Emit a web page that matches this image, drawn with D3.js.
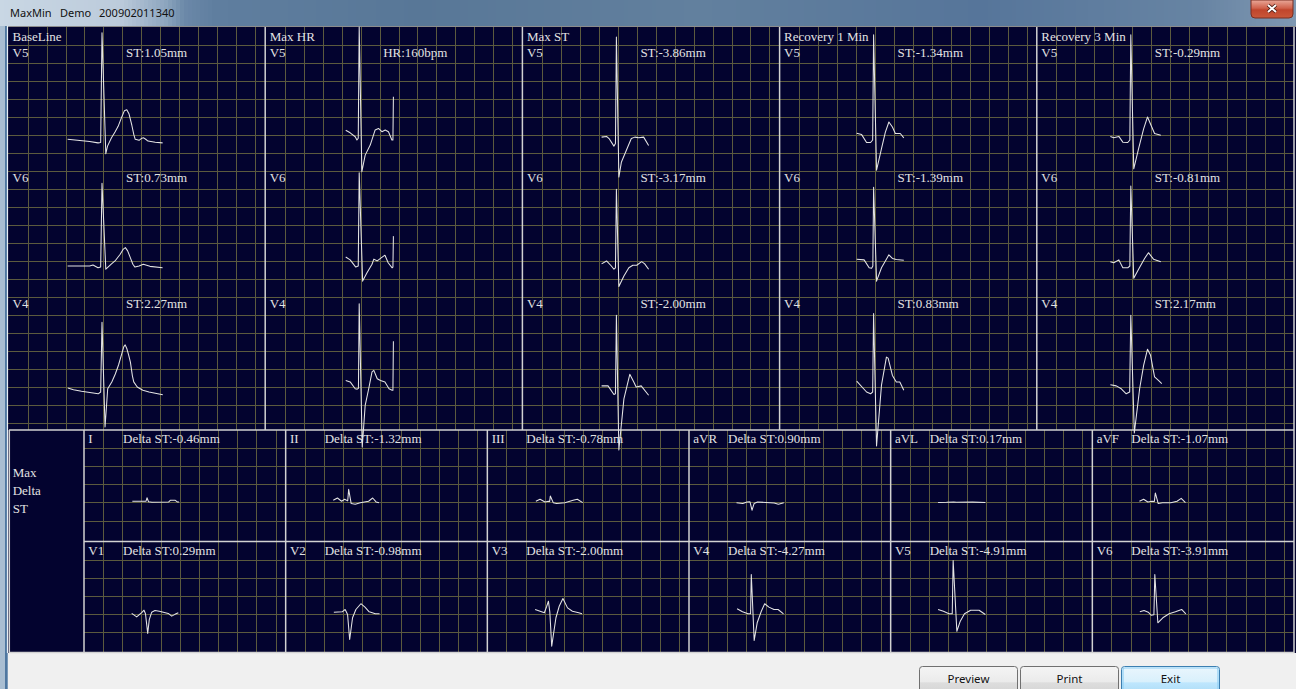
<!DOCTYPE html>
<html><head><meta charset="utf-8">
<script src="https://cdn.jsdelivr.net/npm/d3@7"></script>
<style>html,body{margin:0;padding:0;background:#f0f0f0;overflow:hidden}svg{display:block}</style>
</head><body><svg id="c" width="1296" height="689"></svg>
<script>
// ---------- data ----------
const windowTitle = ["MaxMin", "Demo", "200902011340"];
const stages = ["BaseLine", "Max HR", "Max ST", "Recovery 1 Min", "Recovery 3 Min"];
const stageLeads = ["V5", "V6", "V4"];
const stageST = [[1.05, 0.73, 2.27], [null, null, null], [-3.86, -3.17, -2.00], [-1.34, -1.39, 0.83], [-0.29, -0.81, 2.17]];
const maxHR = 160;
const deltaLeads = ["I", "II", "III", "aVR", "aVL", "aVF", "V1", "V2", "V3", "V4", "V5", "V6"];
const deltaST = [-0.46, -1.32, -0.78, 0.90, 0.17, -1.07, 0.29, -0.98, -2.00, -4.27, -4.91, -3.91];
const buttons = ["Preview", "Print", "Exit"];

// averaged beats: [time from R (ms), amplitude (mm)]
const baseV5 = [[-362,0.2],[-130,-0.4],[-42,-0.8],[-14,-0.7],[0,29.8],[40,-3.8],[58,-1.7],[100,0.6],[137,2.2],[170,3.8],[205,6.2],[235,8.1],[261,8.4],[285,7.2],[314,4.1],[335,1.5],[350,0.2],[390,-0.1],[420,0.5],[439,0.6],[460,0.2],[484,-0.3],[560,-0.6],[638,-0.8]];
const baseV6 = [[-362,0],[-130,0],[-95,0.3],[-42,-0.5],[-14,-0.3],[0,23],[40,-0.9],[63,-0.3],[100,0.6],[137,1.4],[190,3.2],[225,4.7],[246,5.1],[270,4.2],[300,2.2],[325,0.5],[347,-0.3],[390,0],[435,0.5],[505,-0.1],[638,-0.5]];
const baseV4 = [[-360,1.1],[-300,0.6],[-216,0.2],[-40,-0.5],[-14,0],[0,19.4],[32,-9.7],[60,0.9],[103,2.8],[140,5],[174,7.5],[210,10.8],[230,12.6],[244,13.1],[262,12],[280,10.3],[299,8.3],[320,4.5],[334,2.8],[371,1.4],[430,0.5],[495,0],[640,-0.75]];

const hrV5 = [[-142,2.7],[-95,2.0],[-42,0.9],[-24,0],[-10,0.5],[0,31.4],[28,-8.8],[63,-4.2],[116,-1.4],[168,2.8],[203,3.2],[239,2.3],[274,2.8],[308,2.3],[344,0],[355,0],[360,12]];
const hrV6 = [[-142,2.5],[-95,1.7],[-36,-0.3],[-10,0],[0,25.9],[36,-4.2],[82,-1.9],[135,0.5],[154,1.9],[190,1.4],[224,2.1],[271,3.0],[305,0.9],[347,-0.5],[355,-0.3],[360,8.3]];
const hrV4 = [[-142,3.2],[-95,2.8],[-42,0.9],[-21,0.8],[-8,1],[0,24.5],[32,-15.3],[63,-3.7],[100,0.9],[135,5.6],[154,6.0],[190,3.7],[224,3.2],[271,2.8],[314,0.9],[347,0.5],[355,0.5],[360,14.1]];

const stV5 = [[-156,0.8],[-104,1.0],[-74,0.3],[-26,-1.7],[-10,-1],[0,28.6],[26,-10.3],[53,-6.1],[104,-2.9],[157,0.4],[194,0.8],[235,0.6],[287,0.8],[339,-1.5]];
const stV6 = [[-156,0.6],[-104,1.4],[-53,0],[-26,-0.9],[-10,-0.5],[0,21.3],[26,-5.7],[79,-2.8],[131,-0.5],[173,0.2],[214,0.2],[266,1.2],[298,0.6],[339,-0.9]];
const stV4 = [[-156,1.7],[-88,1.7],[-26,-0.7],[-10,-0.5],[0,21.3],[26,-16.1],[79,-1.9],[141,4.9],[183,2.8],[208,1.4],[261,1.7],[339,-0.9]];

const r1V5 = [[-178,1.9],[-126,1.5],[-74,-0.7],[-32,-0.7],[-10,0],[0,29.2],[31,-8.4],[83,-2.4],[124,2.2],[161,5],[198,3.6],[229,1.8],[281,1.8],[318,0.6]];
const r1V6 = [[-178,1.9],[-100,1.7],[-47,-0.5],[-21,-0.6],[-8,0],[0,21.9],[31,-4.2],[83,-0.5],[124,1.4],[161,3.1],[198,2.1],[239,1.8],[318,1.6]];
const r1V4 = [[-178,3],[-74,0],[-32,-0.5],[-10,0],[0,21.8],[31,-15],[83,1.9],[135,9.7],[153,9.4],[198,4.6],[239,2.8],[276,2.8],[318,0.5]];

const r3V5 = [[-215,1],[-179,0.6],[-126,1],[-84,-0.6],[-32,-0.7],[-10,0],[0,29.2],[31,-8],[82,-2.4],[135,3.1],[176,6.4],[213,4.1],[250,1.8],[316,1.3]];
const r3V6 = [[-215,1.2],[-179,0.9],[-126,1.7],[-84,-0.5],[-32,-0.5],[-10,0],[0,22.2],[31,-3.4],[82,-0.9],[145,2.1],[186,3.7],[239,1.9],[316,1.2]];
const r3V4 = [[-215,2],[-153,1.7],[-100,0.9],[-48,-0.5],[-12,0],[0,21.3],[37,-11.4],[93,0.9],[135,7.4],[176,11.9],[208,10.2],[250,4.2],[291,3.2],[326,2.3]];

const dI   = [[-309,0.6],[-105,0.6],[-20,0.6],[0,2.5],[32,0.3],[105,0],[457,0.2],[491,1.1],[596,1.1],[638,0.2],[674,0.2]];
const dII  = [[-324,1.1],[-236,2.4],[-149,0.6],[-84,1.7],[-20,0.8],[0,7.2],[53,-0.7],[139,-1.1],[244,-0.2],[419,0.6],[505,2.4],[577,0.2],[638,-0.2]];
const dIII = [[-305,0.6],[-217,1.7],[-112,0.2],[-42,0.6],[-15,0.4],[0,3.5],[61,-0.2],[133,-0.7],[305,-0.2],[480,1.1],[568,1.7],[682,-0.2]];
const daVR = [[-326,-0.2],[-194,-0.7],[-105,0.2],[-42,0.3],[0,-4.4],[44,-0.7],[116,0.2],[467,-0.4],[556,-1.1],[669,-0.2]];
const daVL = [[-328,-0.1],[-150,0],[0,0.2],[60,0],[400,0.1],[667,-0.1]];
const daVF = [[-335,0.6],[-246,1.7],[-158,0.2],[-69,0.6],[-20,0.5],[0,5.2],[61,-0.7],[149,-0.2],[326,-0.2],[457,0.6],[545,2.2],[634,-0.2]];
const dV1  = [[-322,0.2],[-217,-1.7],[-112,0.6],[-63,2],[-32,0],[15,-10.9],[48,-3.2],[99,0.9],[168,1.8],[259,1.4],[448,0.2],[520,-1.3],[589,-0.3],[659,0.6]];
const dV2  = [[-312,0.9],[-137,1.1],[-74,2.4],[-23,-0.4],[21,-14.3],[82,-2.2],[152,2.4],[257,5.6],[343,3.7],[432,1.1],[562,0],[650,0]];
const dV3  = [[-320,2.4],[-126,0.6],[-76,4.2],[-40,7],[-11,1.1],[29,-18],[118,-2.2],[187,4.2],[265,8.5],[362,3.3],[465,1.4],[598,0.6],[667,0]];
const dV4  = [[-314,2.8],[-200,1.1],[-84,0],[-30,0],[-15,21.8],[46,-14.8],[109,-5],[196,1.4],[267,5.6],[356,3.7],[461,2.4],[549,2.4],[663,0]];
const dV5  = [[-328,2.4],[-215,1.4],[-99,0],[-30,0],[-11,29.6],[67,-9.7],[139,-4.1],[227,0],[358,2],[535,2],[667,-0.4]];
const dV6  = [[-326,1.1],[-238,1.8],[-149,0.9],[-88,-0.8],[-30,-0.5],[-11,21.8],[53,-5],[158,-2.2],[290,0],[423,1.1],[554,2.4],[642,0]];

const stageBeats = [[baseV5, baseV6, baseV4], [hrV5, hrV6, hrV4], [stV5, stV6, stV4], [r1V5, r1V6, r1V4], [r3V5, r3V6, r3V4]];
const deltaBeats = [dI, dII, dIII, daVR, daVL, daVF, dV1, dV2, dV3, dV4, dV5, dV6];

// ---------- layout ----------
const W = 1296, H = 689;
const area = { x0: 8, x1: 1294, y0: 26, ySplit: 430, y1: 653 };
const topW = (area.x1 - area.x0) / stages.length;
const botX0 = 84, botW = (area.x1 - botX0) / 6, botH = (area.y1 - area.ySplit) / 2;
const C = { navy: "#03032f", grid: "#5c5a3e", border: "#d2d2d2", trace: "#e4e4e4", text: "#e2e2e2" };
const serif = "'Liberation Serif','Times New Roman',serif";
const sans = "'Noto Sans','Liberation Sans',sans-serif";

const svg = d3.select("#c");
const defs = svg.append("defs");
function gradient(id, vertical, stops) {
  const g = defs.append("linearGradient").attr("id", id).attr("gradientUnits", "objectBoundingBox")
    .attr("x1", 0).attr("y1", 0).attr("x2", vertical ? 0.001 : 1).attr("y2", vertical ? 1 : 0.001);
  stops.forEach(([o, c]) => g.append("stop").attr("offset", o).attr("stop-color", c));
}
gradient("closeG", true, [[0, "#e9a899"], [0.45, "#d0624c"], [0.55, "#c0452c"], [1, "#c9583a"]]);
gradient("btnG", true, [[0, "#f4f4f4"], [0.5, "#ebebeb"], [0.55, "#dddddd"], [1, "#d2d2d2"]]);
gradient("btnBlue", true, [[0, "#eaf6fd"], [0.5, "#d9f0fc"], [0.55, "#bee6fd"], [1, "#a7d9f5"]]);

// window frame and footer
svg.append("rect").attr("width", W).attr("height", H).attr("fill", "#f0f0f0");
svg.append("rect").attr("x", 0).attr("y", 0).attr("width", 8).attr("height", H).attr("fill", "#a9bed2");
svg.append("rect").attr("x", 5).attr("y", 24).attr("width", 2.5).attr("height", H - 24).attr("fill", "#4f77a0");

// title bar: aero strip, built from solid bands
const titleBands = [[0, "#c9d7e4"], [120, "#bccbdb"], [165, "#8ea6bf"], [185, "#6b88a8"], [215, "#5f7e9f"], [420, "#587797"], [700, "#62809e"], [980, "#56759a"], [1200, "#6784a3"], [1296, "#7f98b2"]];
const bandColor = d3.scaleLinear().domain(titleBands.map(d => d[0])).range(titleBands.map(d => d[1])).interpolate(d3.interpolateRgb);
svg.append("g").selectAll("rect").data(d3.range(0, W, 4)).join("rect")
  .attr("x", d => d).attr("y", 0).attr("width", 4.5).attr("height", 26).attr("fill", d => bandColor(d + 2));
const titleX = [10, 60, 99];
svg.append("g").selectAll("text").data(windowTitle).join("text")
  .attr("x", (d, i) => titleX[i]).attr("y", 17).attr("font-family", sans).attr("font-size", 11).attr("fill", "#111")
  .text(d => d);
// close button
svg.append("path").attr("d", "M1251,0 H1293 V14 Q1293,18 1289,18 H1255 Q1251,18 1251,14 Z")
  .attr("fill", "url(#closeG)").attr("stroke", "#7a2f22").attr("stroke-width", 1);
const xg = svg.append("g").attr("transform", "translate(1272,8.5)");
[["#4a1a12", 3.6], ["#ffffff", 2]].forEach(([c, w]) => {
  xg.append("path").attr("d", "M-4,-3.5 L4,3.5 M4,-3.5 L-4,3.5").attr("stroke", c).attr("stroke-width", w).attr("fill", "none");
});

// plotting area
svg.append("rect").attr("x", area.x0).attr("y", area.y0).attr("width", W - area.x0).attr("height", area.y1 - area.y0).attr("fill", C.navy);

const grid = svg.append("g").attr("stroke", C.grid).attr("stroke-width", 1).attr("shape-rendering", "crispEdges");
const px = v => Math.round(v) + 0.5;
// upper section grid
d3.range(1, 23).forEach(k => {
  const y = area.y0 + 0.5 + 18 * k;
  grid.append("line").attr("x1", area.x0).attr("x2", area.x1).attr("y1", px(y)).attr("y2", px(y));
});
stages.forEach((s, i) => {
  const left = area.x0 + topW * i;
  d3.range(0, 13).forEach(k => {
    const x = left + 19.6 + 18.95 * k;
    grid.append("line").attr("x1", px(x)).attr("x2", px(x)).attr("y1", area.y0).attr("y2", area.ySplit);
  });
});
// lower section grid
d3.range(6).forEach(c => {
  const left = botX0 + botW * c;
  d3.range(1, 11).forEach(k => {
    const x = left + 19.15 * k;
    grid.append("line").attr("x1", px(x)).attr("x2", px(x)).attr("y1", area.ySplit).attr("y2", area.y1);
  });
});
[0, 1].forEach(r => {
  const top = area.ySplit + botH * r;
  d3.range(1, 6).forEach(k => {
    const y = top + 18.1 * k;
    grid.append("line").attr("x1", botX0).attr("x2", area.x1).attr("y1", px(y)).attr("y2", px(y));
  });
});
// label column of the lower section stays plain
svg.append("rect").attr("x", area.x0 + 1).attr("y", area.ySplit).attr("width", botX0 - area.x0 - 1).attr("height", area.y1 - area.ySplit).attr("fill", C.navy);

// borders
const bd = svg.append("g").attr("stroke", C.border).attr("stroke-width", 1.5).attr("fill", "none");
svg.append("line").attr("x1", area.x0).attr("x2", W).attr("y1", area.y0 + 0.5).attr("y2", area.y0 + 0.5).attr("stroke", "#8c8c8c").attr("stroke-width", 1);
svg.append("line").attr("x1", 7.5).attr("x2", 7.5).attr("y1", area.y0).attr("y2", area.y1).attr("stroke", "#e8eef4").attr("stroke-width", 1.2);
d3.range(1, stages.length + 1).forEach(i => {
  const x = area.x0 + topW * i;
  bd.append("line").attr("x1", x).attr("x2", x).attr("y1", area.y0).attr("y2", area.ySplit);
});
bd.append("line").attr("x1", 9).attr("x2", area.x1).attr("y1", area.ySplit).attr("y2", area.ySplit);
bd.append("line").attr("x1", 9).attr("x2", area.x1).attr("y1", area.y1 - 0.5).attr("y2", area.y1 - 0.5);
bd.append("line").attr("x1", 9.3).attr("x2", 9.3).attr("y1", area.ySplit).attr("y2", area.y1);
bd.append("line").attr("x1", botX0).attr("x2", area.x1).attr("y1", area.ySplit + botH).attr("y2", area.ySplit + botH);
d3.range(0, 7).forEach(c => {
  const x = botX0 + botW * c;
  bd.append("line").attr("x1", x).attr("x2", x).attr("y1", area.ySplit).attr("y2", area.y1);
});

// text labels
const tx = svg.append("g").attr("font-family", serif).attr("font-size", 13).attr("fill", C.text);
stages.forEach((s, i) => {
  const left = area.x0 + topW * i;
  tx.append("text").attr("x", left + 4.5).attr("y", 41).text(s);
  stageLeads.forEach((lead, r) => {
    const y = 56.5 + 125.5 * r;
    tx.append("text").attr("x", left + 4.5).attr("y", y).text(lead);
    let val = null;
    if (stageST[i][r] !== null) val = "ST:" + stageST[i][r].toFixed(2) + "mm";
    else if (r === 0) val = "HR:" + maxHR + "bpm";
    if (val) tx.append("text").attr("x", left + 118).attr("y", y).text(val);
  });
});
["Max", "Delta", "ST"].forEach((t, k) => tx.append("text").attr("x", 12.7).attr("y", 477.3 + 18 * k).text(t));
deltaLeads.forEach((lead, j) => {
  const c = j % 6, r = Math.floor(j / 6);
  const left = botX0 + botW * c, top = area.ySplit + botH * r;
  tx.append("text").attr("x", left + 4.3).attr("y", top + 13.3).text(lead);
  tx.append("text").attr("x", left + 39).attr("y", top + 13.3).text("Delta ST:" + deltaST[j].toFixed(2) + "mm");
});

// traces (drawn last so large complexes may overrun the cell edges)
const tr = svg.append("g").attr("fill", "none").attr("stroke", C.trace).attr("stroke-width", 1.05).attr("stroke-linejoin", "round");
stageBeats.forEach((beats, i) => {
  const rx = area.x0 + topW * i + 94;
  const x = d3.scaleLinear().domain([0, 200]).range([rx, rx + 19]);
  beats.forEach((beat, r) => {
    const base = 140 + 126 * r;
    const y = d3.scaleLinear().domain([0, 5]).range([base, base - 18]);
    tr.append("path").attr("d", d3.line().x(d => x(d[0])).y(d => y(d[1]))(beat));
  });
});
deltaBeats.forEach((beat, j) => {
  const c = j % 6, r = Math.floor(j / 6);
  const rx = botX0 + botW * c + 63;
  const base = area.ySplit + botH * r + 72.3;
  const x = d3.scaleLinear().domain([0, 400]).range([rx, rx + 19]);
  const y = d3.scaleLinear().domain([0, 10]).range([base, base - 18]);
  tr.append("path").attr("d", d3.line().x(d => x(d[0])).y(d => y(d[1]))(beat));
});

// footer buttons
const btnX = [919.5, 1020.5, 1121.5];
buttons.forEach((b, i) => {
  const g = svg.append("g");
  g.append("rect").attr("x", btnX[i]).attr("y", 666.5).attr("width", 98).attr("height", 30).attr("rx", 3)
    .attr("fill", i === 2 ? "url(#btnBlue)" : "url(#btnG)").attr("stroke", i === 2 ? "#3c7fb1" : "#707070").attr("stroke-width", 1);
  if (i === 2) g.append("rect").attr("x", btnX[i] + 1.5).attr("y", 668).attr("width", 95).attr("height", 27).attr("rx", 2)
    .attr("fill", "none").attr("stroke", "#8fd0f5").attr("stroke-width", 1.2);
  g.append("text").attr("x", btnX[i] + 49).attr("y", 682.5).attr("text-anchor", "middle")
    .attr("font-family", sans).attr("font-size", 11.5).attr("fill", "#111").text(b);
});
</script></body></html>
